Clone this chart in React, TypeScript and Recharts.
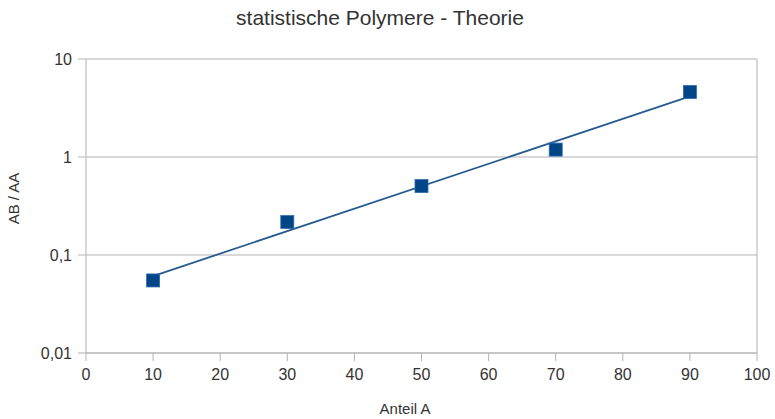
import React from "react";
import {
  ComposedChart,
  Scatter,
  Line,
  XAxis,
  YAxis,
  CartesianGrid,
  ReferenceLine,
} from "recharts";

const anteilA = [10, 30, 50, 70, 90];
const abAa = [0.055, 0.217, 0.505, 1.19, 4.6];
const trendX = [10, 90];
const trendY = [0.061, 4.15];
const xTicks = [0, 10, 20, 30, 40, 50, 60, 70, 80, 90, 100];
const yTicks = [0.01, 0.1, 1, 10];

const points = anteilA.map((x, i) => ({ x, y: abAa[i] }));
const trend = trendX.map((x, i) => ({ x, t: trendY[i] }));

const BLUE = "#004586";
const GRID = "#b3b3b3";
const TEXT = "#333";

const fmtY = (v: number) => String(v).replace(".", ",");

const Square = (props: any) => {
  const { cx, cy } = props;
  const s = 13;
  return <rect x={cx - s / 2} y={cy - s / 2} width={s} height={s} fill={BLUE} stroke="#2a6bb0" strokeWidth={0.8} />;
};

export default function App() {
  const font = "'Liberation Sans', Arial, sans-serif";
  return (
    <div style={{ position: "absolute", left: 0, top: 0, width: 775, height: 419, background: "#fff", fontFamily: font, overflow: "hidden" }}>
      <ComposedChart
        width={775}
        height={419}
        margin={{ top: 59, right: 18, left: 0, bottom: 0 }}
        style={{ position: "absolute", left: 0, top: 0 }}
      >
        <CartesianGrid vertical={false} stroke={GRID} horizontalValues={yTicks} />
        <XAxis
          type="number"
          dataKey="x"
          domain={[0, 100]}
          ticks={xTicks}
          height={66}
          stroke={GRID}
          tickSize={8}
          tickMargin={8}
          tick={{ fill: TEXT, fontSize: 16, fontFamily: font }}
        />
        <YAxis
          type="number"
          scale="log"
          domain={[0.01, 10]}
          ticks={yTicks}
          allowDataOverflow
          width={86}
          stroke={GRID}
          tickSize={8}
          tickMargin={6}
          tickFormatter={fmtY}
          tick={{ fill: TEXT, fontSize: 16, fontFamily: font }}
        />
        <ReferenceLine x={100} stroke={GRID} />
        <Line
          data={trend}
          dataKey="t"
          stroke="#2a5b8f"
          strokeWidth={1.8}
          dot={false}
          activeDot={false}
          isAnimationActive={false}
        />
        <Scatter data={points} dataKey="y" shape={<Square />} isAnimationActive={false} />
      </ComposedChart>
      <div
        style={{
          position: "absolute",
          left: 180,
          width: 400,
          top: 7,
          height: 21,
          lineHeight: "21px",
          textAlign: "center",
          fontSize: 21,
          color: TEXT,
          whiteSpace: "nowrap",
        }}
      >
        statistische Polymere - Theorie
      </div>
      <div
        style={{
          position: "absolute",
          left: 305,
          width: 200,
          top: 401,
          height: 15,
          lineHeight: "15px",
          textAlign: "center",
          fontSize: 15,
          color: TEXT,
          whiteSpace: "nowrap",
        }}
      >
        Anteil A
      </div>
      <div
        style={{
          position: "absolute",
          left: 12.5 - 100,
          width: 200,
          top: 198 - 7.5,
          height: 15,
          lineHeight: "15px",
          textAlign: "center",
          fontSize: 15,
          color: TEXT,
          whiteSpace: "nowrap",
          transform: "rotate(-90deg)",
        }}
      >
        AB / AA
      </div>
    </div>
  );
}
